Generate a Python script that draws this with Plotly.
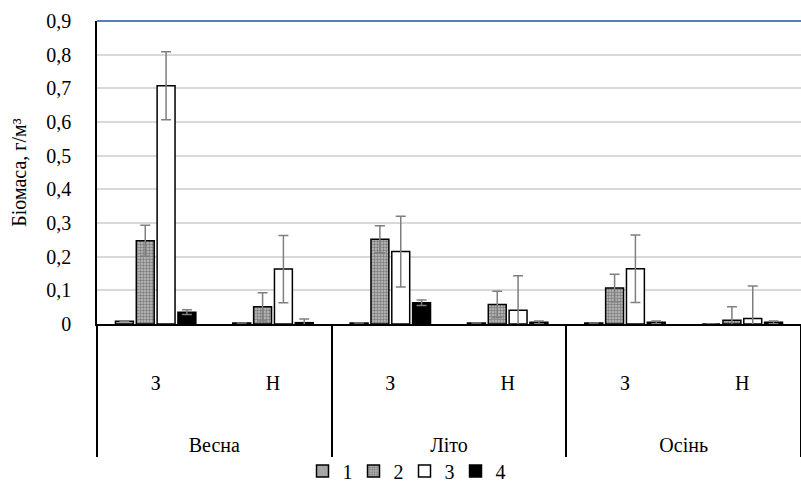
import plotly.graph_objects as go

seasons = ["Весна", "Весна", "Літо", "Літо", "Осінь", "Осінь"]
sites = ["З", "Н", "З", "Н", "З", "Н"]
series_names = ["1", "2", "3", "4"]
s1 = [0.008, 0.003, 0.003, 0.003, 0.003, 0.0]
e1 = [0, 0, 0, 0, 0, 0]
s2 = [0.247, 0.051, 0.252, 0.058, 0.107, 0.011]
e2 = [0.046, 0.042, 0.040, 0.039, 0.041, 0.040]
s3 = [0.708, 0.163, 0.215, 0.041, 0.164, 0.016]
e3 = [0.101, 0.100, 0.105, 0.102, 0.100, 0.097]
s4 = [0.035, 0.004, 0.063, 0.005, 0.005, 0.005]
e4 = [0.007, 0.011, 0.008, 0.004, 0.004, 0.004]
ytick_vals = [0, 0.1, 0.2, 0.3, 0.4, 0.5, 0.6, 0.7, 0.8, 0.9]
ytick_text = ["0", "0,1", "0,2", "0,3", "0,4", "0,5", "0,6", "0,7", "0,8", "0,9"]

FONT = "Liberation Serif, Times New Roman, serif"
# inner labels get extra blank lines so the season row sits lower, like the reference
x = [seasons, [s + "<br>&nbsp;<br>&nbsp;<br>&nbsp;" for s in sites]]

styles = [
    dict(color="#a6a6a6"),
    dict(color="#bfbfbf", pattern=dict(shape=".", fgcolor="#3a3a3a", bgcolor="#bfbfbf", size=3, solidity=0.5)),
    dict(color="#ffffff"),
    dict(color="#000000"),
]
vals = [s1, s2, s3, s4]
errs = [e1, e2, e3, e4]

fig = go.Figure()
for name, v, e, st in zip(series_names, vals, errs, styles):
    fig.add_trace(go.Bar(
        x=x, y=v, name=name,
        marker=dict(**st, line=dict(color="#000000", width=1.5)),
        error_y=dict(type="data", array=e, visible=True, color="#7f7f7f", thickness=1.5, width=5),
    ))

fig.update_layout(
    width=801, height=488,
    margin=dict(l=97, r=0, t=21, b=164),
    paper_bgcolor="white", plot_bgcolor="white",
    barmode="group", bargap=0.29, bargroupgap=0.14,
    font=dict(family=FONT, size=20, color="#000000"),
    showlegend=True,
    legend=dict(orientation="h", xref="container", yref="container", x=0.505, y=0.035,
                xanchor="center", yanchor="middle", font=dict(size=20),
                bgcolor="rgba(0,0,0,0)", itemwidth=30, entrywidth=6, traceorder="normal"),
    shapes=[dict(type="line", xref="paper", yref="paper", x0=0, x1=1, y0=1, y1=1,
                 line=dict(color="#4f81bd", width=2))],
)
fig.update_yaxes(
    range=[0, 0.9], tickvals=ytick_vals, ticktext=ytick_text,
    showgrid=True, gridcolor="#d9d9d9", gridwidth=1.5,
    showline=True, linecolor="#000000", linewidth=1.5,
    ticks="", zeroline=False, ticklabelstandoff=20, automargin=False,
    title=dict(text="Біомаса, г/м³", font=dict(size=20), standoff=14),
    tickfont=dict(size=20),
)
fig.update_xaxes(
    type="multicategory", showline=True, linecolor="#000000", linewidth=2,
    showdividers=True, dividercolor="#000000", dividerwidth=1.5,
    tickfont=dict(size=20), ticks="", ticklabelstandoff=40, automargin=False,
)
fig.write_html("out.html")
